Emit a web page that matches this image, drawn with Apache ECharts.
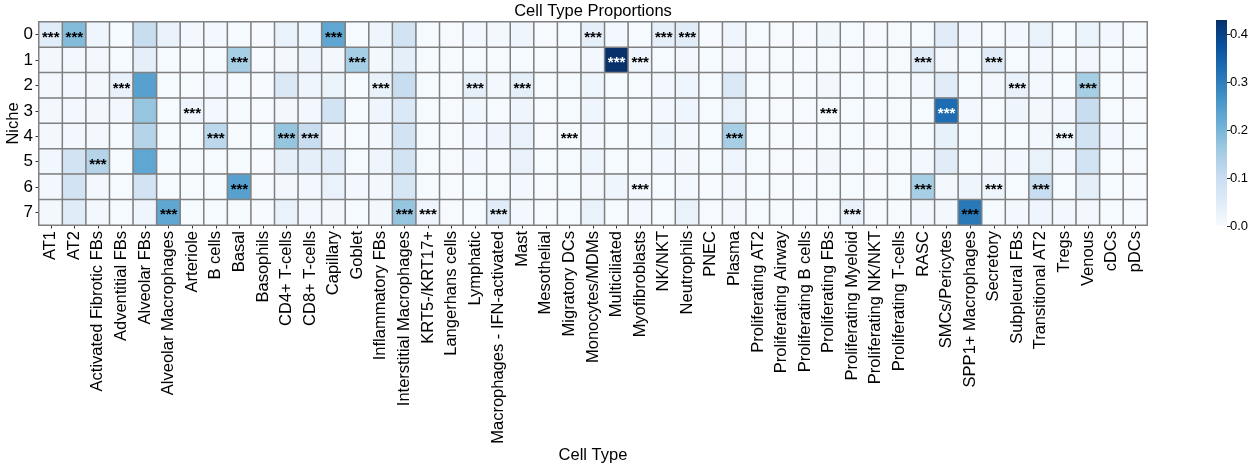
<!DOCTYPE html>
<html>
<head>
<meta charset="utf-8">
<script src="https://cdn.jsdelivr.net/npm/echarts@6/dist/echarts.min.js"></script>
<style>
  html, body { margin: 0; padding: 0; background: #fff; }
  #chart { width: 1256px; height: 470px; }
</style>
</head>
<body>
<div id="chart"></div>
<script>
// cell types (x axis)
var cellTypes = ['AT1', 'AT2', 'Activated Fibrotic FBs', 'Adventitial FBs', 'Alveolar FBs',
  'Alveolar Macrophages', 'Arteriole', 'B cells', 'Basal', 'Basophils', 'CD4+ T-cells',
  'CD8+ T-cells', 'Capillary', 'Goblet', 'Inflammatory FBs', 'Interstitial Macrophages',
  'KRT5-/KRT17+', 'Langerhans cells', 'Lymphatic', 'Macrophages - IFN-activated', 'Mast',
  'Mesothelial', 'Migratory DCs', 'Monocytes/MDMs', 'Multiciliated', 'Myofibroblasts',
  'NK/NKT', 'Neutrophils', 'PNEC', 'Plasma', 'Proliferating AT2', 'Proliferating Airway',
  'Proliferating B cells', 'Proliferating FBs', 'Proliferating Myeloid',
  'Proliferating NK/NKT', 'Proliferating T-cells', 'RASC', 'SMCs/Pericytes',
  'SPP1+ Macrophages', 'Secretory', 'Subpleural FBs', 'Transitional AT2', 'Tregs',
  'Venous', 'cDCs', 'pDCs'];

var niches = ['0', '1', '2', '3', '4', '5', '6', '7'];

// proportions per niche, in cellTypes order
var niche0 = [0.05, 0.19, 0.02, 0.005, 0.10, 0.03, 0.01, 0.01, 0.005, 0.003, 0.03, 0.015, 0.23, 0.005, 0.02, 0.08,
  0.005, 0.003, 0.01, 0.01, 0.02, 0.003, 0.005, 0.04, 0.01, 0.005, 0.04, 0.05, 0.003, 0.02, 0.005, 0.003,
  0.003, 0.015, 0.005, 0.003, 0.005, 0.005, 0.05, 0.01, 0.005, 0.01, 0.03, 0.005, 0.025, 0.01, 0.005];
var niche1 = [0.01, 0.01, 0.01, 0.005, 0.04, 0.005, 0.005, 0.005, 0.15, 0.003, 0.01, 0.02, 0.01, 0.15, 0.01, 0.04,
  0.005, 0.003, 0.005, 0.005, 0.005, 0.003, 0.003, 0.01, 0.43, 0.02, 0.005, 0.01, 0.005, 0.01, 0.003, 0.005,
  0.003, 0.005, 0.003, 0.003, 0.003, 0.05, 0.01, 0.005, 0.05, 0.005, 0.01, 0.005, 0.01, 0.005, 0.003];
var niche2 = [0.01, 0.01, 0.01, 0.03, 0.24, 0.005, 0.005, 0.01, 0.005, 0.003, 0.06, 0.02, 0.025, 0.005, 0.03, 0.10,
  0.005, 0.003, 0.04, 0.01, 0.04, 0.005, 0.005, 0.02, 0.005, 0.005, 0.01, 0.02, 0.005, 0.06, 0.005, 0.003,
  0.003, 0.01, 0.005, 0.003, 0.005, 0.01, 0.05, 0.005, 0.01, 0.03, 0.01, 0.005, 0.15, 0.005, 0.003];
var niche3 = [0.01, 0.01, 0.01, 0.01, 0.17, 0.005, 0.02, 0.01, 0.005, 0.003, 0.01, 0.01, 0.08, 0.005, 0.02, 0.06,
  0.005, 0.003, 0.015, 0.005, 0.02, 0.003, 0.005, 0.02, 0.005, 0.005, 0.01, 0.02, 0.005, 0.03, 0.003, 0.003,
  0.003, 0.005, 0.005, 0.003, 0.005, 0.005, 0.33, 0.01, 0.005, 0.02, 0.01, 0.01, 0.10, 0.005, 0.003];
var niche4 = [0.01, 0.01, 0.01, 0.005, 0.13, 0.005, 0.005, 0.12, 0.005, 0.005, 0.17, 0.10, 0.01, 0.005, 0.01, 0.08,
  0.005, 0.003, 0.01, 0.02, 0.03, 0.003, 0.005, 0.01, 0.005, 0.005, 0.02, 0.01, 0.005, 0.15, 0.005, 0.003,
  0.003, 0.005, 0.005, 0.003, 0.005, 0.005, 0.035, 0.005, 0.005, 0.005, 0.01, 0.015, 0.08, 0.01, 0.005];
var niche5 = [0.015, 0.08, 0.13, 0.005, 0.23, 0.005, 0.005, 0.005, 0.005, 0.003, 0.04, 0.04, 0.05, 0.005, 0.02, 0.08,
  0.005, 0.003, 0.01, 0.005, 0.03, 0.005, 0.005, 0.02, 0.005, 0.005, 0.01, 0.01, 0.005, 0.02, 0.005, 0.003,
  0.003, 0.01, 0.005, 0.003, 0.005, 0.01, 0.05, 0.005, 0.01, 0.01, 0.03, 0.01, 0.08, 0.005, 0.003];
var niche6 = [0.01, 0.08, 0.01, 0.005, 0.08, 0.005, 0.005, 0.005, 0.24, 0.003, 0.01, 0.01, 0.03, 0.01, 0.01, 0.07,
  0.005, 0.003, 0.005, 0.005, 0.01, 0.003, 0.005, 0.01, 0.02, 0.01, 0.005, 0.01, 0.003, 0.01, 0.005, 0.003,
  0.003, 0.005, 0.005, 0.003, 0.005, 0.15, 0.01, 0.02, 0.02, 0.005, 0.10, 0.005, 0.04, 0.005, 0.003];
var niche7 = [0.01, 0.05, 0.01, 0.005, 0.02, 0.23, 0.005, 0.005, 0.005, 0.003, 0.03, 0.01, 0.01, 0.005, 0.01, 0.17,
  0.02, 0.003, 0.005, 0.05, 0.01, 0.003, 0.005, 0.03, 0.005, 0.01, 0.005, 0.03, 0.003, 0.01, 0.005, 0.003,
  0.003, 0.005, 0.03, 0.003, 0.005, 0.01, 0.01, 0.31, 0.005, 0.01, 0.02, 0.01, 0.01, 0.005, 0.003];

// significant (***) cell types per niche
var stars0 = ['AT1', 'AT2', 'Capillary', 'Monocytes/MDMs', 'NK/NKT', 'Neutrophils'];
var stars1 = ['Basal', 'Goblet', 'Multiciliated', 'Myofibroblasts', 'RASC', 'Secretory'];
var stars2 = ['Adventitial FBs', 'Inflammatory FBs', 'Lymphatic', 'Mast', 'Subpleural FBs', 'Venous'];
var stars3 = ['Arteriole', 'Proliferating FBs', 'SMCs/Pericytes'];
var stars4 = ['B cells', 'CD4+ T-cells', 'CD8+ T-cells', 'Migratory DCs', 'Plasma', 'Tregs'];
var stars5 = ['Activated Fibrotic FBs'];
var stars6 = ['Basal', 'Myofibroblasts', 'RASC', 'Secretory', 'Transitional AT2'];
var stars7 = ['Alveolar Macrophages', 'Interstitial Macrophages', 'KRT5-/KRT17+',
  'Macrophages - IFN-activated', 'Proliferating Myeloid', 'SPP1+ Macrophages'];

var colorTicks = [0, 0.1, 0.2, 0.3, 0.4];
var vmax = 0.43;

var rows = [niche0, niche1, niche2, niche3, niche4, niche5, niche6, niche7];
var starRows = [stars0, stars1, stars2, stars3, stars4, stars5, stars6, stars7];
var blues = ['#f7fbff', '#deebf7', '#c6dbef', '#9ecae1', '#6baed6', '#4292c6', '#2171b5', '#08519c', '#08306b'];

var heatData = [];
rows.forEach(function (row, r) {
  row.forEach(function (v, c) {
    var star = starRows[r].indexOf(cellTypes[c]) >= 0;
    heatData.push({
      value: [c, r, v, star ? 1 : 0],
      label: { color: v > 0.32 ? '#fff' : '#000' }
    });
  });
});

// colorbar: bar spans 0..vmax, axis shows 0..0.4
var cbTop = 20, cbBottom = 226;
var cbTickTop = cbBottom - (cbBottom - cbTop) * 0.4 / vmax;
var cbStops = blues.map(function (c, i) {
  return { offset: 1 - i / (blues.length - 1), color: c };
});

var font = 'Liberation Sans, Arial, sans-serif';
var chart = echarts.init(document.getElementById('chart'));
chart.setOption({
  animation: false,
  title: {
    text: 'Cell Type Proportions',
    left: 593, top: 3, padding: 0, textAlign: 'center',
    textStyle: { fontFamily: font, fontSize: 16.5, fontWeight: 'normal', color: '#000' }
  },
  grid: [
    { left: 39, top: 22, width: 1108, height: 203, outerBoundsMode: 'none' },
    { left: 1216, top: cbTickTop, width: 11, height: cbBottom - cbTickTop, outerBoundsMode: 'none' }
  ],
  graphic: [{
    type: 'rect', left: 1216, top: cbTop, z: -1,
    shape: { width: 11, height: cbBottom - cbTop },
    style: { fill: new echarts.graphic.LinearGradient(0, 0, 0, 1, cbStops) }
  }],
  xAxis: [{
    type: 'category', gridIndex: 0, data: cellTypes,
    name: 'Cell Type', nameLocation: 'middle', nameGap: 222, nameMoveOverlap: false,
    nameTextStyle: { fontFamily: font, fontSize: 16.5, color: '#000' },
    axisLine: { show: false },
    axisTick: { show: true, alignWithLabel: true, interval: 0, length: 3.5, lineStyle: { color: '#333' } },
    axisLabel: { interval: 0, rotate: 90, margin: 6, fontFamily: font, fontSize: 16.5, color: '#000' },
    splitLine: { show: false }
  }, {
    type: 'value', gridIndex: 1, show: false, min: 0, max: 1
  }],
  yAxis: [{
    type: 'category', gridIndex: 0, data: niches, inverse: true,
    name: 'Niche', nameLocation: 'middle', nameGap: 17, nameRotate: 90, nameMoveOverlap: false,
    nameTextStyle: { fontFamily: font, fontSize: 16.5, color: '#000' },
    axisLine: { show: false },
    axisTick: { show: true, alignWithLabel: true, interval: 0, length: 3.5, lineStyle: { color: '#333' } },
    axisLabel: { interval: 0, margin: 6, fontFamily: font, fontSize: 17, color: '#000' },
    splitLine: { show: false }
  }, {
    type: 'value', gridIndex: 1, position: 'right', min: 0, max: 0.4, interval: 0.1,
    axisLine: { show: false, onZero: false },
    axisTick: { show: true, length: 3.5, lineStyle: { color: '#333' } },
    axisLabel: { margin: 3, fontFamily: font, fontSize: 13, color: '#000',
      formatter: function (v) { return colorTicks.indexOf(Math.round(v * 10) / 10) >= 0 ? v.toFixed(1) : ''; } },
    splitLine: { show: false }
  }],
  visualMap: {
    type: 'continuous', show: false, seriesIndex: 0, dimension: 2,
    min: 0, max: vmax,
    inRange: { color: blues }
  },
  series: [{
    type: 'heatmap', xAxisIndex: 0, yAxisIndex: 0,
    data: heatData,
    itemStyle: { borderColor: '#808080', borderWidth: 1.5 },
    label: {
      show: true, fontFamily: font, fontSize: 15, fontWeight: 'bold', offset: [0, 3],
      formatter: function (p) { return p.value[3] ? '***' : ''; }
    },
    emphasis: { disabled: true }
  }]
});
</script>
</body>
</html>
